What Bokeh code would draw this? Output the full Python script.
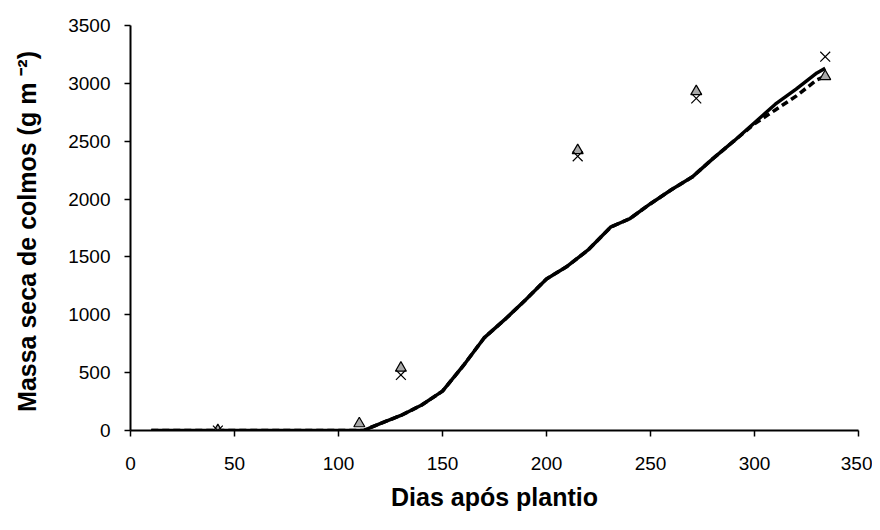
from bokeh.plotting import figure
from bokeh.models import Range1d
from bokeh.embed import file_html
from bokeh.resources import INLINE

# Data
line_days = [10, 112, 120, 130, 140, 150, 160, 170, 180, 190, 200, 210, 220, 231, 240, 250, 260, 270, 280, 290, 300, 310, 320, 330, 334]
sim_solid = [0, 0, 60, 130, 220, 340, 560, 800, 960, 1130, 1310, 1420, 1560, 1760, 1830, 1960, 2080, 2190, 2350, 2500, 2660, 2820, 2950, 3090, 3130]
sim_dashed = [0, 0, 60, 130, 220, 340, 560, 800, 960, 1130, 1310, 1420, 1560, 1760, 1830, 1960, 2080, 2190, 2350, 2500, 2650, 2770, 2890, 3030, 3060]

tri_days = [42, 110, 130, 215, 272, 334]
tri_vals = [0, 60, 540, 2420, 2930, 3060]
x_days = [42, 130, 215, 272, 334]
x_vals = [0, 480, 2370, 2870, 3230]

x_ticks = [0, 50, 100, 150, 200, 250, 300, 350]
y_ticks = [0, 500, 1000, 1500, 2000, 2500, 3000, 3500]

p = figure(width=872, height=514, output_backend="svg", toolbar_location=None,
           x_range=Range1d(0, 350), y_range=Range1d(0, 3500),
           min_border_left=130, min_border_right=14, min_border_top=25, min_border_bottom=84)
p.outline_line_color = None
p.grid.visible = False
p.background_fill_color = "white"

p.line(line_days, sim_dashed, line_color="black", line_width=3.5, line_dash="7 4")
p.line(line_days, sim_solid, line_color="black", line_width=3.5)

p.scatter(tri_days, tri_vals, marker="triangle", size=11, fill_color="#a8a8a8",
          line_color="black", line_width=1.2)
p.scatter(x_days, x_vals, marker="x", size=14, line_color="black", line_width=1.2)

for ax in (p.xaxis[0], p.yaxis[0]):
    ax.axis_line_width = 2
    ax.axis_line_color = "black"
    ax.major_tick_line_color = "black"
    ax.major_tick_line_width = 1.5
    ax.major_tick_out = 6
    ax.major_tick_in = 0
    ax.minor_tick_line_color = None
    ax.major_label_text_font = "Liberation Sans"
    ax.major_label_text_font_size = "19px"
    ax.major_label_text_color = "black"
    ax.axis_label_text_font = "Liberation Sans"
    ax.axis_label_text_font_size = "25px"
    ax.axis_label_text_font_style = "bold"
    ax.axis_label_text_color = "black"

p.xaxis.ticker = x_ticks
p.yaxis.ticker = y_ticks
p.xaxis.axis_label = "Dias após plantio"
p.yaxis.axis_label = "Massa seca de colmos (g m  ⁻²)"
p.xaxis.major_label_standoff = 20
p.yaxis.major_label_standoff = 14
p.xaxis.axis_label_standoff = 10
p.yaxis.axis_label_standoff = 24

open("out.html", "w").write(file_html(p, INLINE))
